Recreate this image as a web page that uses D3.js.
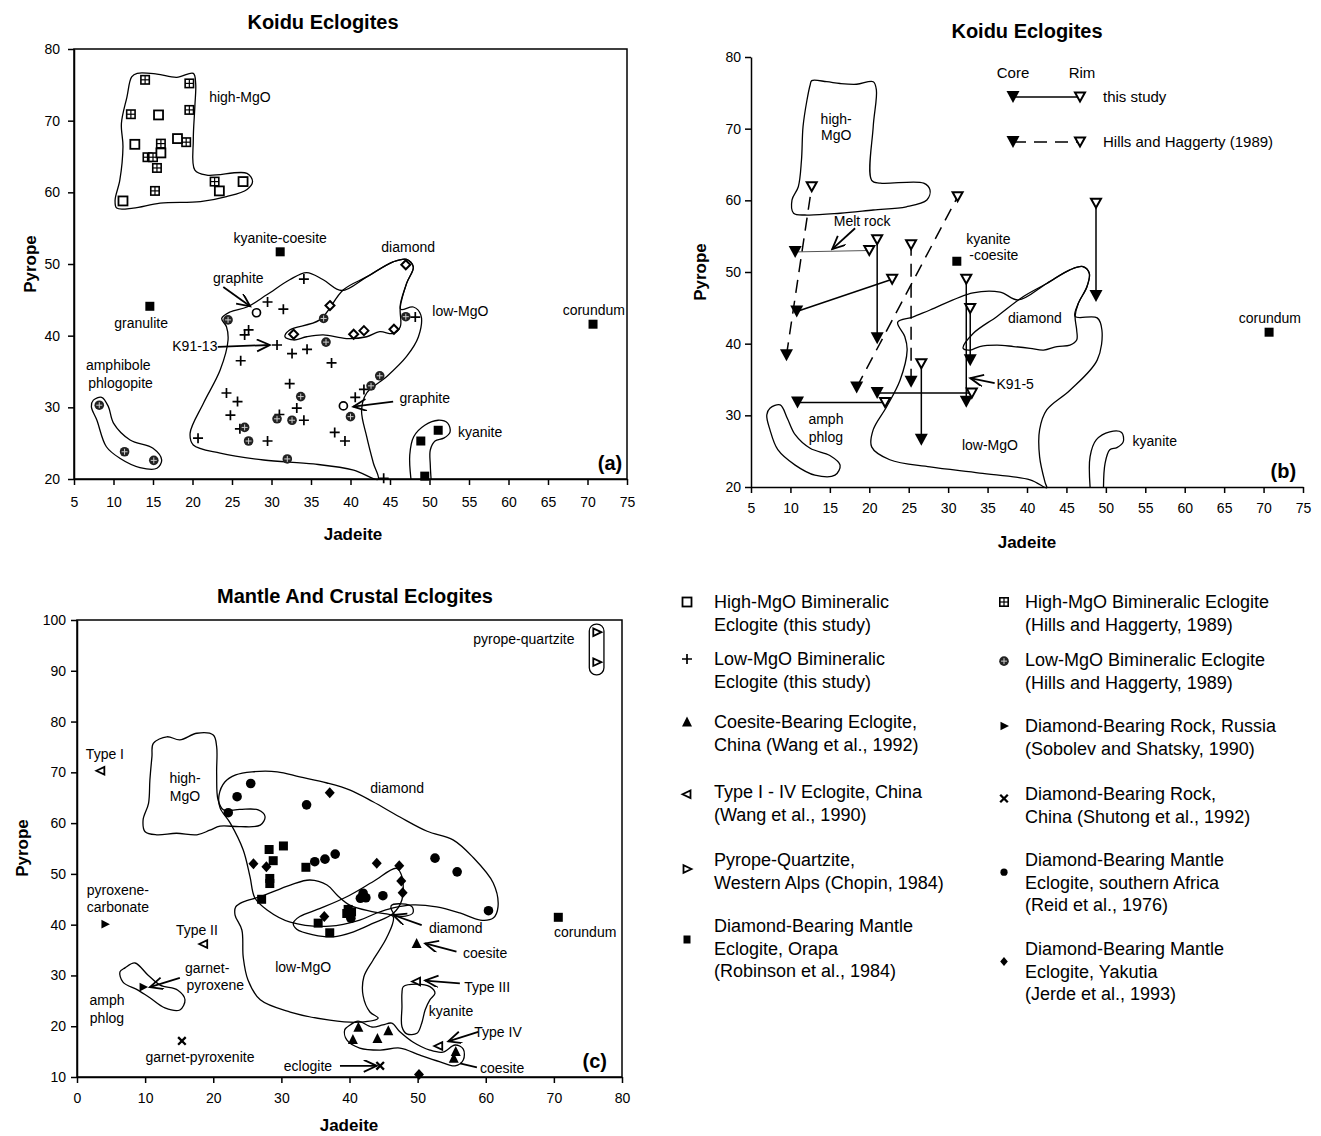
<!DOCTYPE html>
<html>
<head>
<meta charset="utf-8">
<script src="https://cdn.jsdelivr.net/npm/d3@7"></script>
<style>
  body { margin: 0; background: #fff; }
  svg text { font-family: "Liberation Sans", Arial, Helvetica, sans-serif; fill: #000; }
</style>
</head>
<body>
<svg id="fig" width="1321" height="1136"></svg>
<script>
// ---------- ticks
const xTicksAB = [5,10,15,20,25,30,35,40,45,50,55,60,65,70,75];
const yTicksAB = [20,30,40,50,60,70,80];
const xTicksC = [0,10,20,30,40,50,60,70,80];
const yTicksC = [10,20,30,40,50,60,70,80,90,100];

// ---------- panel (a): Koidu eclogites  [jadeite, pyrope]
const aHighOpen = [[15.7,70.8],[12.7,66.7],[16.0,65.5],[18.1,67.5],[11.2,58.8],[23.4,60.2],[26.4,61.5]];
const aHighHills = [[14.0,75.7],[19.6,75.2],[12.2,70.9],[19.6,71.5],[16.0,66.8],[19.2,67.0],[14.3,64.9],[15.0,64.9],[15.5,63.4],[15.25,60.2],[22.8,61.5]];
const aLowPlus = [[34.1,47.9],[29.5,44.7],[31.5,43.7],[27.1,40.8],[26.6,40.1],[30.7,38.7],[32.6,37.5],[34.5,38.1],[26.1,36.5],[37.6,36.2],[32.3,33.3],[24.3,32.0],[25.7,30.8],[33.2,29.9],[24.8,28.9],[31.0,29.0],[34.1,28.2],[26.0,27.0],[20.7,25.7],[29.5,25.3],[38.0,26.5],[39.3,25.3],[40.6,31.4],[41.7,32.5],[48.2,42.6],[44.2,20.1]];
const aLowHills = [[24.5,42.2],[36.6,42.4],[36.9,39.1],[43.7,34.4],[42.6,33.0],[33.7,31.5],[40.0,28.7],[30.7,28.4],[32.6,28.2],[26.6,27.2],[27.1,25.3],[32.0,22.8],[47.0,42.65],[8.2,30.3],[11.4,23.8],[15.1,22.6]];
const aGraphite = [[28.1,43.2],[39.1,30.2]];
const aDiamond = [[47.0,49.9],[37.4,44.2],[32.8,40.2],[40.4,40.2],[41.7,40.7],[45.5,40.9]];
const aOther = [[31.1,51.7],[14.6,44.1],[70.7,41.6],[48.9,25.3],[49.4,20.4],[51.1,26.8]];

const aHighMgOLine = [[13.0,76.6],[15.5,76.5],[18.0,76.05],[20.1,76.6],[20.4,75.2],[20.3,72.0],[20.1,67.3],[20.3,63.1],[21.8,62.4],[26.9,62.65],[27.6,61.5],[26.9,60.4],[24.3,59.4],[21.0,58.7],[15.9,58.5],[12.5,57.8],[10.4,57.8],[10.2,58.9],[10.8,61.7],[11.2,66.4],[11.0,69.6],[11.7,73.3],[12.3,76.1]];
const aLowMgOLine = [[23.7,42.4],[24.75,43.3],[26.9,44.0],[29.4,45.7],[32.3,47.8],[34.45,48.8],[36.55,47.8],[38.9,46.3],[42.05,48.2],[45.4,50.3],[47.1,50.65],[47.95,49.6],[47.1,47.3],[46.35,43.7],[47.95,44.0],[48.9,42.9],[48.6,39.85],[47.1,37.1],[44.6,34.3],[42.05,32.0],[41.4,29.6],[42.05,25.9],[42.9,22.2],[43.5,19.95],[40.4,21.25],[35.3,22.1],[29.0,22.65],[23.5,23.6],[20.1,24.75],[19.7,26.4],[21.4,30.6],[23.5,35.2],[24.5,39.4],[24.3,41.25]];
const aDiamondLine = [[31.7,39.85],[32.3,40.8],[36.1,42.2],[39.1,46.4],[42.05,48.2],[45.4,50.3],[47.1,50.65],[47.95,49.6],[47.1,47.3],[46.3,44.0],[46.3,41.25],[45.4,40.3],[43.7,40.55],[42.05,39.85],[39.5,39.6],[36.55,40.1],[34.45,39.85],[32.8,39.4]];
const aAmphLine = [[7.45,31.0],[8.5,31.4],[9.35,30.1],[10.0,27.8],[12.1,25.45],[15.0,24.3],[16.1,22.65],[15.5,21.5],[13.35,21.6],[10.8,22.9],[9.1,24.5],[7.9,28.2],[7.2,30.1]];
const aKyaniteLine = [[47.65,20.0],[47.5,23.35],[48.0,25.9],[49.4,27.5],[51.1,28.2],[52.3,27.8],[52.6,26.55],[51.8,25.7],[50.7,25.3],[50.1,24.05],[50.1,21.95],[50.2,20.0]];

const aLabels = [["high-MgO",26.0,73.3],["kyanite-coesite",31.1,53.6],["diamond",47.3,52.4],["graphite",25.8,48.05],
  ["low-MgO",53.9,43.4],["granulite",13.5,41.8],["K91-13",20.3,38.55],["amphibole",10.6,35.9],["phlogopite",10.9,33.4],
  ["graphite",49.4,31.3],["kyanite",56.4,26.55],["corundum",70.8,43.6]];
const aArrows = [[23.9,46.8,27.3,44.1],[23.2,38.45,29.8,38.7],[45.4,30.8,40.35,30.1]];

// ---------- panel (b): core -> rim  [coreX, coreY, rimX, rimY]
const bSolid = [[21.0,40.75,21.0,54.5],[10.8,44.5,22.9,49.0],[32.3,31.9,32.3,49.0],[32.8,37.7,32.8,44.9],
  [26.6,26.6,26.6,37.2],[21.0,33.1,33.0,33.1],[10.9,31.8,22.0,31.8],[48.75,46.65,48.75,59.6]];
const bMelt = [[10.6,52.8,20.0,53.0]];
const bDashed = [[9.5,38.4,12.7,61.9],[25.3,34.7,25.3,53.8],[18.4,33.9,31.2,60.5]];
const bOther = [[31.1,51.5],[70.7,41.6]];

const bHighMgOLine = [[12.7,76.7],[14.6,76.55],[16.3,76.3],[18.4,76.2],[20.5,76.55],[20.9,75.4],[20.5,70.3],[20.3,62.8],[21.4,62.4],[26.9,62.4],[27.7,61.45],[27.3,60.05],[24.7,59.1],[20.5,58.65],[16.3,58.2],[12.1,57.95],[10.4,58.2],[10.2,60.05],[11.0,61.9],[11.4,65.6],[11.6,70.3],[12.1,74.0],[12.5,76.1]];
const bDiamondLine = [[31.9,39.35],[33.2,41.45],[36.2,43.8],[39.5,46.55],[42.5,48.4],[45.45,50.3],[47.1,50.75],[47.9,49.8],[47.6,47.95],[46.5,45.6],[46.1,43.8],[46.3,41.9],[46.3,40.5],[45.45,39.8],[43.8,39.6],[42.1,39.1],[40.4,39.35],[38.3,39.6],[36.2,39.8],[34.0,39.6],[32.8,39.1]];
const bLowMgOLine = [[23.6,43.0],[25.5,43.7],[27.7,44.7],[33.15,47.1],[36.6,47.2],[38.9,46.1],[42.5,48.4],[45.45,50.3],[47.1,50.75],[47.9,49.8],[47.6,47.95],[46.5,45.6],[46.1,43.8],[48.9,43.6],[49.5,41.9],[48.9,37.7],[45.45,33.5],[42.5,30.75],[41.6,28.0],[41.6,24.2],[42.3,20.6],[42.5,19.9],[40.4,21.0],[34.0,21.95],[27.7,22.8],[22.6,23.8],[20.3,25.6],[20.5,28.0],[22.2,31.2],[23.9,34.9],[24.8,39.1],[24.5,41.0]];
const bAmphLine = [[7.4,31.0],[8.7,31.45],[9.6,29.6],[10.6,27.3],[12.5,25.4],[15.0,24.4],[16.3,23.05],[15.65,21.65],[13.1,21.65],[10.6,23.05],[8.4,25.2],[7.4,28.0],[7.0,30.05]];
const bKyaniteLine = [[48.0,20.0],[48.0,24.25],[48.8,26.6],[50.5,27.7],[52.0,27.6],[52.2,26.3],[51.4,25.5],[50.5,25.2],[49.9,23.3],[49.7,20.0]];

const bLabels = [["high-",15.8,71.35],["MgO",15.8,69.1],["Melt rock",19.1,57.1],["kyanite",35.1,54.6],["-coesite",35.8,52.4],
  ["diamond",41.0,43.6],["corundum",70.8,43.6],["K91-5",38.5,34.4],["amph",14.5,29.5],["phlog",14.5,27.0],
  ["low-MgO",35.3,25.9],["kyanite",56.2,26.4]];
const bArrows = [[18.2,56.1,15.3,53.2],[35.9,34.5,32.8,35.2]];

// ---------- panel (c): mantle and crustal eclogites
const cAfrica = [[25.5,67.8],[23.5,65.2],[22.2,62.05],[33.7,63.6],[34.9,52.4],[36.4,52.9],[37.9,53.9],[52.55,53.1],[55.8,50.4],[60.4,42.75],[44.9,45.7],[42.0,46.2],[41.6,45.2],[42.4,45.3],[40.2,41.25]];
const cYakutia = [[37.1,66.0],[25.9,52.0],[27.8,51.4],[44.0,52.1],[47.3,51.6],[47.6,48.6],[47.8,46.3],[36.3,41.6],[50.2,10.5]];
const cOrapa = [[28.2,54.8],[30.3,55.5],[28.8,52.6],[28.3,49.1],[28.3,48.1],[33.6,51.3],[27.1,45.0],[39.8,43.0],[39.6,42.2],[40.3,42.5],[35.4,40.3],[37.1,38.4]];
const cCoesite = [[49.85,36.3],[41.3,19.8],[40.5,17.4],[44.1,17.6],[45.7,19.1],[55.6,15.0],[55.3,13.7]];
const cTypeIV = [[3.5,70.3],[18.6,36.2],[49.85,28.8],[53.1,16.1]];
const cPyropeQtz = [[76.3,97.6],[76.3,91.7]];
const cRussia = [[4.1,40.1],[9.7,27.7]];
const cChina = [[15.4,17.1],[44.5,12.2]];
const cCorundum = [[70.65,41.45]];

const cHighMgOLine = [[11.2,75.7],[13.2,77.0],[15.1,76.4],[17.6,77.7],[20.0,77.35],[20.5,75.05],[20.5,69.8],[20.7,64.6],[21.5,62.6],[23.9,62.7],[26.6,62.6],[27.6,61.3],[26.9,59.6],[23.9,59.3],[21.0,59.4],[19.5,58.6],[17.6,57.7],[14.6,58.0],[11.7,57.7],[10.0,58.3],[9.7,60.6],[10.5,63.9],[10.7,68.5],[11.0,73.1]];
const cDiamondLine = [[20.85,65.5],[21.7,68.1],[23.3,69.5],[25.7,70.1],[29.4,70.1],[32.7,69.1],[36.7,67.9],[40.1,66.5],[43.45,64.2],[47.4,61.2],[51.4,58.4],[55.2,56.7],[58.1,53.3],[61.1,48.2],[61.8,43.5],[61.1,41.3],[59.2,40.9],[56.2,42.3],[52.8,43.5],[49.3,43.9],[46.4,43.3],[44.0,42.3],[41.5,40.9],[37.1,39.7],[31.3,40.5],[27.9,42.9],[26.1,45.3],[25.4,49.4],[24.4,54.7],[22.5,60.0],[21.0,63.0]];
const cInnerLine = [[31.75,40.3],[32.7,41.6],[35.7,43.2],[39.6,45.5],[43.5,48.5],[46.9,51.1],[47.7,49.45],[47.7,44.9],[46.4,42.2],[43.5,40.3],[40.6,38.6],[37.6,37.6],[34.7,38.0],[32.25,39.1]];
const cTipLine = [[46.1,43.7],[47.7,44.1],[49.2,43.5],[49.3,42.3],[48.2,41.7],[46.7,41.9]];
const cLowMgOLine = [[23.3,43.5],[24.4,44.5],[26.9,45.5],[31.3,47.8],[34.2,48.8],[36.7,47.8],[38.2,45.8],[40.1,43.8],[43.7,42.45],[46.4,41.6],[45.5,37.55],[43.45,33.0],[42.1,29.7],[42.0,26.0],[43.0,22.8],[44.2,21.6],[41.5,20.8],[37.1,21.2],[31.3,22.8],[26.9,25.2],[25.1,29.1],[24.4,33.6],[24.2,38.95],[23.2,41.9]];
const cCoesiteLine = [[40.1,20.25],[41.25,21.0],[43.3,19.85],[44.9,20.25],[46.2,20.6],[47.4,18.9],[49.3,16.9],[51.8,15.3],[53.7,14.9],[55.5,16.3],[56.7,15.5],[56.7,13.35],[55.5,12.2],[53.3,13.0],[50.35,14.3],[47.4,15.7],[44.5,15.3],[41.5,15.7],[39.6,17.3],[39.3,19.3]];
const cKyaniteLine = [[47.9,27.8],[49.9,28.3],[51.8,27.8],[52.55,26.5],[51.8,25.2],[51.1,23.2],[50.6,20.6],[49.9,18.6],[48.4,18.5],[47.7,19.9],[47.7,23.85],[47.7,26.5]];
const cAmphLine = [[7.05,31.5],[8.5,32.45],[10.4,30.1],[12.2,28.1],[14.8,27.1],[15.85,25.2],[15.1,23.2],[12.9,23.6],[10.7,25.6],[8.95,27.1],[6.75,28.7],[6.3,30.7]];
const cQtzBox = [[75.2,99.2],[77.35,89.2]];

const cLabels = [["Type I",4.1,73.6],["high-",15.85,68.9],["MgO",15.85,65.3],["diamond",47.0,66.9],["pyrope-quartzite",65.6,96.3],
  ["pyroxene-",6.0,46.8],["carbonate",6.0,43.5],["Type II",17.6,38.95],["diamond",55.6,39.35],["corundum",74.6,38.6],
  ["coesite",59.9,34.4],["low-MgO",33.2,31.7],["garnet-",19.1,31.5],["pyroxene",20.3,28.1],["Type III",60.2,27.7],
  ["amph",4.4,25.2],["phlog",4.4,21.6],["kyanite",54.9,23.0],["Type IV",61.8,18.9],["garnet-pyroxenite",18.05,13.9],
  ["eclogite",33.9,12.2],["coesite",62.4,11.8]];
const cArrows = [[50.6,39.9,46.4,41.9],[55.7,34.7,51.1,36.3],[56.2,28.45,51.1,29.0],[58.9,18.9,54.5,17.0],[38.6,12.2,44.0,12.2],[15.1,29.5,10.7,27.7]];
const cLeaders = [[56.2,12.7,58.7,11.9]];

// ---------- legend
const legendLeft = [
  ["openSq", ["High-MgO Bimineralic","Eclogite (this study)"]],
  ["plus", ["Low-MgO Bimineralic","Eclogite (this study)"]],
  ["triUp", ["Coesite-Bearing Eclogite,","China (Wang et al., 1992)"]],
  ["triLeft", ["Type I - IV Eclogite, China","(Wang et al., 1990)"]],
  ["triRightOpen", ["Pyrope-Quartzite,","Western Alps (Chopin, 1984)"]],
  ["fillSqS", ["Diamond-Bearing Mantle","Eclogite, Orapa","(Robinson et al., 1984)"]]
];
const legendRight = [
  ["gridSq", ["High-MgO Bimineralic Eclogite","(Hills and Haggerty, 1989)"]],
  ["oplus", ["Low-MgO Bimineralic Eclogite","(Hills and Haggerty, 1989)"]],
  ["triRight", ["Diamond-Bearing Rock, Russia","(Sobolev and Shatsky, 1990)"]],
  ["cross", ["Diamond-Bearing Rock,","China (Shutong et al., 1992)"]],
  ["fillCircS", ["Diamond-Bearing Mantle","Eclogite, southern Africa","(Reid et al., 1976)"]],
  ["fillDiaS", ["Diamond-Bearing Mantle","Eclogite, Yakutia","(Jerde et al., 1993)"]]
];

// ===================================================================
const svg = d3.select("#fig");
const defs = svg.append("defs");
defs.append("marker").attr("id","arr")
  .attr("markerUnits","userSpaceOnUse").attr("markerWidth",16).attr("markerHeight",14)
  .attr("refX",14).attr("refY",6).attr("orient","auto")
  .append("path").attr("d","M1,0 L14,6 L1,12").attr("fill","none").attr("stroke","#000").attr("stroke-width",1.8);

function styleAxis(sel) {
  sel.selectAll("path,line").attr("stroke","#000").attr("stroke-width",1.5);
  sel.selectAll("text").attr("font-size",14).attr("fill","#000")
    .attr("font-family","'Liberation Sans', Arial, sans-serif");
}

function makePanel(xr, yr, xd, yd, xt, yt, boxed, padX, padY) {
  const x = d3.scaleLinear().domain(xd).range(xr);
  const y = d3.scaleLinear().domain(yd).range(yr);
  const g = svg.append("g");
  g.append("g").attr("transform", `translate(0,${yr[0]})`)
    .call(d3.axisBottom(x).tickValues(xt).tickSize(6).tickSizeOuter(0).tickPadding(padX))
    .call(styleAxis);
  g.append("g").attr("transform", `translate(${xr[0]},0)`)
    .call(d3.axisLeft(y).tickValues(yt).tickSize(6).tickSizeOuter(0).tickPadding(padY))
    .call(styleAxis);
  if (boxed) {
    g.append("rect").attr("x", xr[0]).attr("y", yr[1])
      .attr("width", xr[1]-xr[0]).attr("height", yr[0]-yr[1])
      .attr("fill","none").attr("stroke","#000").attr("stroke-width",1.5);
  }
  return {g, x, y};
}

function sym(g, type, cx, cy) {
  const k = "#000";
  switch (type) {
    case "openSq":
      g.append("rect").attr("x",cx-4.5).attr("y",cy-4.5).attr("width",9).attr("height",9)
        .attr("fill","#fff").attr("stroke",k).attr("stroke-width",1.8); break;
    case "gridSq":
      g.append("rect").attr("x",cx-5).attr("y",cy-5).attr("width",10).attr("height",10).attr("fill",k);
      [[-3.4,-3.4],[0.6,-3.4],[-3.4,0.6],[0.6,0.6]].forEach(o =>
        g.append("rect").attr("x",cx+o[0]).attr("y",cy+o[1]).attr("width",2.8).attr("height",2.8).attr("fill","#fff"));
      break;
    case "plus":
      g.append("path").attr("d",`M${cx-5},${cy}H${cx+5}M${cx},${cy-5}V${cy+5}`)
        .attr("stroke",k).attr("stroke-width",1.7); break;
    case "oplus":
      g.append("circle").attr("cx",cx).attr("cy",cy).attr("r",4.8).attr("fill","#222");
      g.append("path").attr("d",`M${cx-3},${cy}H${cx+3}M${cx},${cy-3}V${cy+3}`)
        .attr("stroke","#ccc").attr("stroke-width",1); break;
    case "openCirc":
      g.append("circle").attr("cx",cx).attr("cy",cy).attr("r",4).attr("fill","#fff")
        .attr("stroke",k).attr("stroke-width",1.7); break;
    case "openDia":
      g.append("path").attr("d",`M${cx},${cy-4.5}L${cx+4.5},${cy}L${cx},${cy+4.5}L${cx-4.5},${cy}Z`)
        .attr("fill","#fff").attr("stroke",k).attr("stroke-width",2); break;
    case "fillSq":
      g.append("rect").attr("x",cx-4.5).attr("y",cy-4.5).attr("width",9).attr("height",9).attr("fill",k); break;
    case "fillSqS":
      g.append("rect").attr("x",cx-3.5).attr("y",cy-4).attr("width",7).attr("height",8).attr("fill",k); break;
    case "fillCirc":
      g.append("circle").attr("cx",cx).attr("cy",cy).attr("r",4.8).attr("fill",k); break;
    case "fillCircS":
      g.append("circle").attr("cx",cx).attr("cy",cy).attr("r",3.6).attr("fill",k); break;
    case "fillDia":
      g.append("path").attr("d",`M${cx},${cy-5.5}L${cx+5},${cy}L${cx},${cy+5.5}L${cx-5},${cy}Z`).attr("fill",k); break;
    case "fillDiaS":
      g.append("path").attr("d",`M${cx},${cy-4.5}L${cx+3.8},${cy}L${cx},${cy+4.5}L${cx-3.8},${cy}Z`).attr("fill",k); break;
    case "triUp":
      g.append("path").attr("d",`M${cx},${cy-5.5}L${cx+5},${cy+4.5}L${cx-5},${cy+4.5}Z`).attr("fill",k); break;
    case "triLeft":
      g.append("path").attr("d",`M${cx-4.5},${cy}L${cx+3.5},${cy-3.8}L${cx+3.5},${cy+3.8}Z`)
        .attr("fill","#fff").attr("stroke",k).attr("stroke-width",1.8); break;
    case "triRightOpen":
      g.append("path").attr("d",`M${cx+4.5},${cy}L${cx-3.5},${cy-3.8}L${cx-3.5},${cy+3.8}Z`)
        .attr("fill","#fff").attr("stroke",k).attr("stroke-width",1.8); break;
    case "triRight":
      g.append("path").attr("d",`M${cx+5},${cy}L${cx-3.5},${cy-4.3}L${cx-3.5},${cy+4.3}Z`).attr("fill",k); break;
    case "cross":
      g.append("path").attr("d",`M${cx-3.8},${cy-3.8}L${cx+3.8},${cy+3.8}M${cx+3.8},${cy-3.8}L${cx-3.8},${cy+3.8}`)
        .attr("stroke",k).attr("stroke-width",2.3); break;
    case "core":
      g.append("path").attr("d",`M${cx-6.5},${cy-6}L${cx+6.5},${cy-6}L${cx},${cy+6}Z`).attr("fill",k); break;
    case "rim":
      g.append("path").attr("d",`M${cx-5},${cy-4.5}L${cx+5},${cy-4.5}L${cx},${cy+4.5}Z`)
        .attr("fill","#fff").attr("stroke",k).attr("stroke-width",2); break;
  }
}

function points(P, data, type) {
  const gg = P.g.append("g");
  data.forEach(d => sym(gg, type, P.x(d[0]), P.y(d[1])));
}

function outline(P, data, closed) {
  const line = d3.line().x(d => P.x(d[0])).y(d => P.y(d[1]))
    .curve(closed ? d3.curveCatmullRomClosed.alpha(0.5) : d3.curveCatmullRom.alpha(0.5));
  P.g.append("path").attr("d", line(data)).attr("fill","none")
    .attr("stroke","#000").attr("stroke-width",1.3);
}

function labels(P, list, size) {
  P.g.append("g").selectAll("text").data(list).join("text")
    .attr("x", d => P.x(d[1])).attr("y", d => P.y(d[2])).attr("dy","0.36em")
    .attr("text-anchor","middle").attr("font-size", size).text(d => d[0]);
}

function arrows(P, list, head) {
  P.g.append("g").selectAll("line").data(list).join("line")
    .attr("x1", d => P.x(d[0])).attr("y1", d => P.y(d[1]))
    .attr("x2", d => P.x(d[2])).attr("y2", d => P.y(d[3]))
    .attr("stroke","#000").attr("stroke-width",1.8)
    .attr("marker-end", head ? "url(#arr)" : null);
}

function title(txt, cx, cy, size, rot) {
  const t = svg.append("text").attr("text-anchor","middle").attr("font-weight","bold")
    .attr("font-size", size).attr("dy","0.36em").text(txt);
  if (rot) t.attr("transform", `translate(${cx},${cy}) rotate(-90)`);
  else t.attr("x", cx).attr("y", cy);
}

// ---------------- panel (a)
const A = makePanel([74,627],[479,49],[5,75],[20,80], xTicksAB, yTicksAB, true, 12, 8);
outline(A, aHighMgOLine, true);
outline(A, aLowMgOLine, true);
outline(A, aDiamondLine, true);
outline(A, aAmphLine, true);
outline(A, aKyaniteLine, false);
points(A, aLowPlus, "plus");
points(A, aLowHills, "oplus");
points(A, aGraphite, "openCirc");
points(A, aDiamond, "openDia");
points(A, aHighHills, "gridSq");
points(A, aHighOpen, "openSq");
points(A, aOther, "fillSq");
labels(A, aLabels, 14);
arrows(A, aArrows, true);
A.g.append("text").attr("x", A.x(72.85)).attr("y", A.y(22.2)).attr("dy","0.36em")
  .attr("text-anchor","middle").attr("font-size",20).attr("font-weight","bold").text("(a)");
title("Koidu Eclogites", 323, 22, 20);
title("Jadeite", 353, 534, 17);
title("Pyrope", 30, 264, 17, true);

// ---------------- panel (b)
const B = makePanel([751,1303],[487,57],[5,75],[20,80], xTicksAB, yTicksAB, false, 10, 4);
outline(B, bHighMgOLine, true);
outline(B, bLowMgOLine, true);
outline(B, bDiamondLine, true);
outline(B, bAmphLine, true);
outline(B, bKyaniteLine, false);
function pairs(P, list, dash, width, color) {
  P.g.append("g").selectAll("line").data(list).join("line")
    .attr("x1", d => P.x(d[0])).attr("y1", d => P.y(d[1]))
    .attr("x2", d => P.x(d[2])).attr("y2", d => P.y(d[3]))
    .attr("stroke", color).attr("stroke-width", width).attr("stroke-dasharray", dash);
  const gg = P.g.append("g");
  list.forEach(d => { sym(gg, "core", P.x(d[0]), P.y(d[1])); sym(gg, "rim", P.x(d[2]), P.y(d[3])); });
}
pairs(B, bMelt, null, 1, "#555");
pairs(B, bSolid, null, 1.5, "#000");
pairs(B, bDashed, "13,8", 1.5, "#000");
points(B, bOther, "fillSq");
labels(B, bLabels, 14);
arrows(B, bArrows, true);
B.g.append("text").attr("x", B.x(72.5)).attr("y", B.y(22.2)).attr("dy","0.36em")
  .attr("text-anchor","middle").attr("font-size",20).attr("font-weight","bold").text("(b)");
// legend of panel (b)
const bl = B.g.append("g");
bl.append("text").attr("x",1013).attr("y",73).attr("dy","0.36em").attr("text-anchor","middle").attr("font-size",15).text("Core");
bl.append("text").attr("x",1082).attr("y",73).attr("dy","0.36em").attr("text-anchor","middle").attr("font-size",15).text("Rim");
[[97,null,"this study"],[142,"13,8","Hills and Haggerty (1989)"]].forEach(r => {
  bl.append("line").attr("x1",1013).attr("x2",1080).attr("y1",r[0]).attr("y2",r[0])
    .attr("stroke","#000").attr("stroke-width",1.5).attr("stroke-dasharray",r[1]);
  sym(bl,"core",1013,r[0]); sym(bl,"rim",1080,r[0]);
  bl.append("text").attr("x",1103).attr("y",r[0]).attr("dy","0.36em").attr("font-size",15).text(r[2]);
});
title("Koidu Eclogites", 1027, 31, 20);
title("Jadeite", 1027, 542, 17);
title("Pyrope", 700, 272, 17, true);

// ---------------- panel (c)
const C = makePanel([77,622],[1077,620],[0,80],[10,100], xTicksC, yTicksC, true, 10, 5);
outline(C, cHighMgOLine, true);
outline(C, cDiamondLine, true);
outline(C, cInnerLine, true);
outline(C, cTipLine, true);
outline(C, cLowMgOLine, true);
outline(C, cCoesiteLine, true);
outline(C, cKyaniteLine, true);
outline(C, cAmphLine, true);
C.g.append("rect").attr("x", C.x(cQtzBox[0][0])).attr("y", C.y(cQtzBox[0][1]))
  .attr("width", C.x(cQtzBox[1][0]) - C.x(cQtzBox[0][0]))
  .attr("height", C.y(cQtzBox[1][1]) - C.y(cQtzBox[0][1]))
  .attr("rx",7).attr("fill","none").attr("stroke","#000").attr("stroke-width",1.3);
points(C, cAfrica, "fillCirc");
points(C, cYakutia, "fillDia");
points(C, cOrapa, "fillSq");
points(C, cCoesite, "triUp");
points(C, cTypeIV, "triLeft");
points(C, cPyropeQtz, "triRightOpen");
points(C, cRussia, "triRight");
points(C, cChina, "cross");
points(C, cCorundum, "fillSq");
labels(C, cLabels, 14);
arrows(C, cArrows, true);
arrows(C, cLeaders, false);
C.g.append("text").attr("x", C.x(76.0)).attr("y", C.y(13.2)).attr("dy","0.36em")
  .attr("text-anchor","middle").attr("font-size",20).attr("font-weight","bold").text("(c)");
title("Mantle And Crustal Eclogites", 355, 596, 20);
title("Jadeite", 349, 1125, 17);
title("Pyrope", 22, 848, 17, true);

// ---------------- legend
const rowsY = [602, 659, 722, 792, 860, 926];
const rowsYR = [602, 660, 726, 794, 860, 949];
function legendCol(list, ys, mx, tx, markerOffset) {
  const lg = svg.append("g");
  list.forEach((item, i) => {
    const lines = item[1];
    const y0 = ys[i];
    const my = y0 + (lines.length - 1) * 22.5 * markerOffset[i];
    sym(lg, item[0], mx, my);
    lines.forEach((t, j) => lg.append("text").attr("x", tx).attr("y", y0 + j * 22.5)
      .attr("dy","0.36em").attr("font-size",18).text(t));
  });
}
legendCol(legendLeft, rowsY, 687, 714, [0,0,0,0.1,0.4,0.3]);
legendCol(legendRight, rowsYR, 1004, 1025, [0,0.05,0,0.2,0.27,0.28]);
</script>
</body>
</html>
